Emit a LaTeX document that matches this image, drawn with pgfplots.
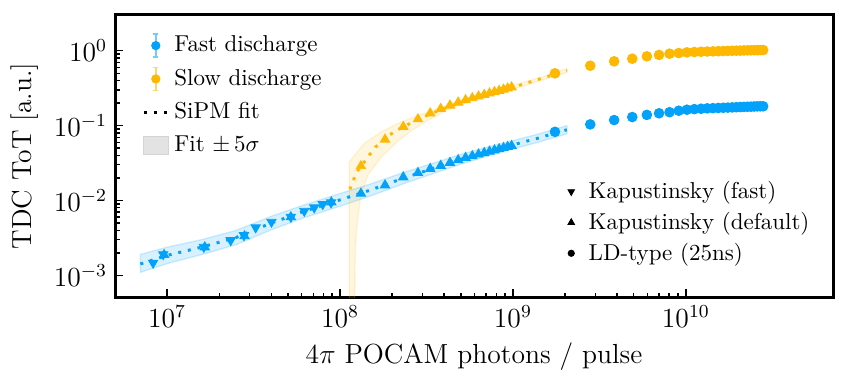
\documentclass[border=0pt]{standalone}
\usepackage{pgfplots}
\pgfplotsset{compat=1.18}
\usepackage{pgfplotstable}
\definecolor{cblue}{RGB}{2,162,250}
\definecolor{corange}{RGB}{255,184,0}
\definecolor{cblueL}{RGB}{120,200,252}
\definecolor{corangeL}{RGB}{255,215,110}

% Blue (fast discharge)
\pgfplotstableread{
x y
8.29e6 1.47e-3
9.48e6 1.91e-3
1.63e7 2.40e-3
2.33e7 2.94e-3
2.78e7 3.43e-3
3.25e7 4.36e-3
4.01e7 5.18e-3
5.19e7 6.04e-3
6.21e7 7.26e-3
7.09e7 8.06e-3
7.94e7 8.93e-3
8.87e7 9.40e-3
}\blueKfast

\pgfplotstableread{
x y
9.6e6 1.88e-3
1.65e7 2.38e-3
2.8e7 3.35e-3
5.19e7 6.0e-3
8.9e7 9.5e-3
1.32e8 0.0124
1.82e8 0.0160
2.32e8 0.0205
2.82e8 0.0234
3.32e8 0.0265
3.82e8 0.0292
4.32e8 0.0320
4.82e8 0.0347
5.32e8 0.0373
5.82e8 0.0393
6.32e8 0.0413
6.82e8 0.0432
7.32e8 0.0451
7.82e8 0.0469
8.32e8 0.0487
8.82e8 0.0504
9.32e8 0.0521
9.82e8 0.0538
}\blueKdef

\pgfplotstableread{
x y
1.75e9 0.0826
2.80e9 0.1038
3.85e9 0.1185
4.90e9 0.130
5.95e9 0.139
7.00e9 0.146
8.05e9 0.151
9.10e9 0.158
10.15e9 0.163
11.20e9 0.166
12.25e9 0.168
13.30e9 0.170
14.35e9 0.171
15.40e9 0.172
16.45e9 0.173
17.50e9 0.174
18.55e9 0.175
19.60e9 0.176
20.65e9 0.177
21.70e9 0.178
22.75e9 0.1785
23.80e9 0.179
24.85e9 0.180
25.90e9 0.1805
26.95e9 0.181
28.00e9 0.181
}\blueLD

% Orange (slow discharge)
\pgfplotstableread{
x y
1.32e8 0.0288
1.82e8 0.0653
2.32e8 0.0964
2.82e8 0.122
3.32e8 0.146
3.82e8 0.168
4.32e8 0.186
4.82e8 0.204
5.32e8 0.220
5.82e8 0.2331
6.32e8 0.2457
6.82e8 0.2579
7.32e8 0.2698
7.82e8 0.2813
8.32e8 0.2925
8.82e8 0.3035
9.32e8 0.3142
9.82e8 0.3247
}\orangeKdef

\pgfplotstableread{
x y
1.75e9 0.499
2.80e9 0.630
3.85e9 0.721
4.90e9 0.782
5.95e9 0.841
7.00e9 0.877
8.05e9 0.912
9.10e9 0.930
10.15e9 0.950
11.20e9 0.960
12.25e9 0.968
13.30e9 0.975
14.35e9 0.980
15.40e9 0.985
16.45e9 0.990
17.50e9 0.994
18.55e9 0.998
19.60e9 1.001
20.65e9 1.004
21.70e9 1.007
22.75e9 1.010
23.80e9 1.012
24.85e9 1.014
25.90e9 1.016
26.95e9 1.018
28.00e9 1.020
}\orangeLD

\pgfplotstableread{
x y
7e6 1.42e-3
1e7 1.85e-3
1.6e7 2.4e-3
2.5e7 3.2e-3
4e7 5.0e-3
6e7 7.0e-3
1e8 1.02e-2
1.5e8 1.38e-2
2.3e8 1.97e-2
3.4e8 2.65e-2
5e8 3.55e-2
7e8 4.45e-2
1e9 5.55e-2
1.4e9 6.8e-2
1.8e9 8.1e-2
2.05e9 8.8e-2
}\blueFit

\pgfplotstableread{
x y
1.14e8 0.0141
1.185e8 0.0177
1.24e8 0.0234
1.32e8 0.029
1.42e8 0.0353
1.51e8 0.0434
1.61e8 0.052
1.77e8 0.064
1.93e8 0.0746
2.1e8 0.085
2.3e8 0.095
2.8e8 0.120
3.4e8 0.146
4.2e8 0.176
5.5e8 0.220
7e8 0.262
1e9 0.325
1.4e9 0.413
1.8e9 0.495
2.05e9 0.545
}\orangeFit

\pgfplotsset{
  fitline/.style={line width=1.3pt, dash pattern=on 1.3pt off 3pt},
}

\begin{document}
\begin{tikzpicture}
\begin{axis}[
  name=ax,
  xmode=log, ymode=log,
  scale only axis,
  width=312.2pt, height=122.8pt,
  xmin=5e6, xmax=7.1e10, ymin=5.1e-4, ymax=3,
  axis line style={line width=1.3pt},
  tick align=inside,
  xtick pos=bottom, ytick pos=left,
  major tick length=3.5pt, minor tick length=2pt,
  every tick/.style={black, line width=0.6pt},
  xtick={1e7,1e8,1e9,1e10},
  ytick={1e-3,1e-2,1e-1,1},
  tick label style={font=\fontsize{12}{14}\selectfont},
  label style={font=\fontsize{12}{14}\selectfont},
  xlabel={$4\pi$ POCAM photons / pulse},
  ylabel={TDC ToT [a.u.]},
  legend style={draw=none, fill=none, font=\fontsize{10}{12}\selectfont,
    at={(0.028,0.96)}, anchor=north west, row sep=2pt},
  legend cell align=left,
]
% bands
\addplot[forget plot, fill=cblue, fill opacity=0.15, draw=cblue, draw opacity=0.18, line width=0.6pt] coordinates {
(7e6,1.91e-3) (1e7,2.38e-3) (1.6e7,3.02e-3) (2.5e7,3.98e-3) (4e7,6.15e-3) (6e7,8.51e-3) (1e8,1.24e-2) (1.5e8,1.66e-2) (2.3e8,2.34e-2) (3.4e8,3.11e-2) (5e8,4.13e-2) (7e8,5.11e-2) (1e9,6.30e-2) (1.4e9,7.71e-2) (2.05e9,9.98e-2)
(2.05e9,7.76e-2) (1.4e9,6.00e-2) (1e9,4.89e-2) (7e8,3.88e-2) (5e8,3.06e-2) (3.4e8,2.26e-2) (2.3e8,1.66e-2) (1.5e8,1.15e-2) (1e8,8.39e-3) (6e7,5.76e-3) (4e7,4.06e-3) (2.5e7,2.57e-3) (1.6e7,1.91e-3) (1e7,1.44e-3) (7e6,1.10e-3)
} -- cycle;
\addplot[forget plot, fill=corange, fill opacity=0.12, draw=corange, draw opacity=0.15, line width=0.6pt] coordinates {
(1.13e8,1e-4) (1.13e8,0.0328) (1.38e8,0.0578) (1.73e8,0.0826) (2.16e8,0.107) (2.7e8,0.131) (3.37e8,0.157) (4.2e8,0.19) (5.5e8,0.235) (7e8,0.278) (1e9,0.345) (1.4e9,0.43) (2.05e9,0.575)
(2.05e9,0.51) (1.4e9,0.39) (1e9,0.305) (7e8,0.243) (5.5e8,0.205) (4.2e8,0.162) (3.37e8,0.125) (2.7e8,0.092) (2.16e8,0.062) (1.73e8,0.038) (1.45e8,0.022) (1.32e8,0.012) (1.27e8,0.006) (1.24e8,0.0036) (1.22e8,0.0015) (1.21e8,1e-4)
} -- cycle;
% fits
\addplot[forget plot, cblue, fitline] table {\blueFit};
\addplot[forget plot, corange, fitline] table {\orangeFit};
% data
\addplot[forget plot, only marks, mark=triangle*, mark size=2.3pt, cblue, every mark/.append style={rotate=180}] table {\blueKfast};
\addplot[forget plot, only marks, mark=triangle*, mark size=2.3pt, cblue] table {\blueKdef};
\addplot[forget plot, only marks, mark=*, mark size=2.1pt, cblue] table {\blueLD};
\addplot[forget plot, only marks, mark=triangle*, mark size=2.3pt, corange] table {\orangeKdef};
\addplot[forget plot, only marks, mark=*, mark size=2.1pt, corange] table {\orangeLD};
% legend 1
\addlegendimage{legend image code/.code={
  \draw[cblueL, line width=0.7pt] (5.45pt,-5pt) -- (5.45pt,5pt);
  \draw[cblueL, line width=0.7pt] (4.3pt,-5pt) -- (6.6pt,-5pt) (4.3pt,5pt) -- (6.6pt,5pt);
  \fill[cblue] (5.45pt,0pt) circle (1.8pt);
  \path (0pt,0pt) (10.9pt,0pt);}}
\addlegendentry{Fast discharge}
\addlegendimage{legend image code/.code={
  \draw[corangeL, line width=0.7pt] (5.45pt,-5pt) -- (5.45pt,5pt);
  \draw[corangeL, line width=0.7pt] (4.3pt,-5pt) -- (6.6pt,-5pt) (4.3pt,5pt) -- (6.6pt,5pt);
  \fill[corange] (5.45pt,0pt) circle (1.8pt);
  \path (0pt,0pt) (10.9pt,0pt);}}
\addlegendentry{Slow discharge}
\addlegendimage{legend image code/.code={
  \draw[black, line width=1.3pt, dash pattern=on 1.3pt off 3pt] (0.5pt,0pt) -- (10.9pt,0pt);}}
\addlegendentry{SiPM fit}
\addlegendimage{legend image code/.code={
  \filldraw[fill=black!11, draw=black!17, line width=0.6pt] (0pt,-3.85pt) rectangle (10.9pt,3.85pt);}}
\addlegendentry{Fit $\pm\,5\sigma$}
\end{axis}
\begin{axis}[
  xmode=log, ymode=log,
  scale only axis,
  width=312.2pt, height=122.8pt,
  xmin=5e6, xmax=7.1e10, ymin=5.1e-4, ymax=3,
  hide axis,
  legend style={draw=none, fill=none, font=\fontsize{10}{12}\selectfont,
    at={(0.62,0.445)}, anchor=north west, row sep=0.4pt,
    /tikz/every odd column/.append style={column sep=4pt}},
  legend cell align=left,
]
\addlegendimage{legend image code/.code={
  \fill[black] (0pt,-1.6pt) -- (1.4pt,0.85pt) -- (-1.4pt,0.85pt) -- cycle;}}
\addlegendentry{Kapustinsky (fast)}
\addlegendimage{legend image code/.code={
  \fill[black] (0pt,1.6pt) -- (1.4pt,-0.85pt) -- (-1.4pt,-0.85pt) -- cycle;}}
\addlegendentry{Kapustinsky (default)}
\addlegendimage{legend image code/.code={
  \fill[black] (0pt,0pt) circle (1.35pt);}}
\addlegendentry{LD-type (25ns)}
\end{axis}
\pgfresetboundingbox
\useasboundingbox ([shift={(-50.07pt,-37.9pt)}]ax.south west) rectangle ([shift={(6.1pt,6.5pt)}]ax.north east);
\end{tikzpicture}
\end{document}
